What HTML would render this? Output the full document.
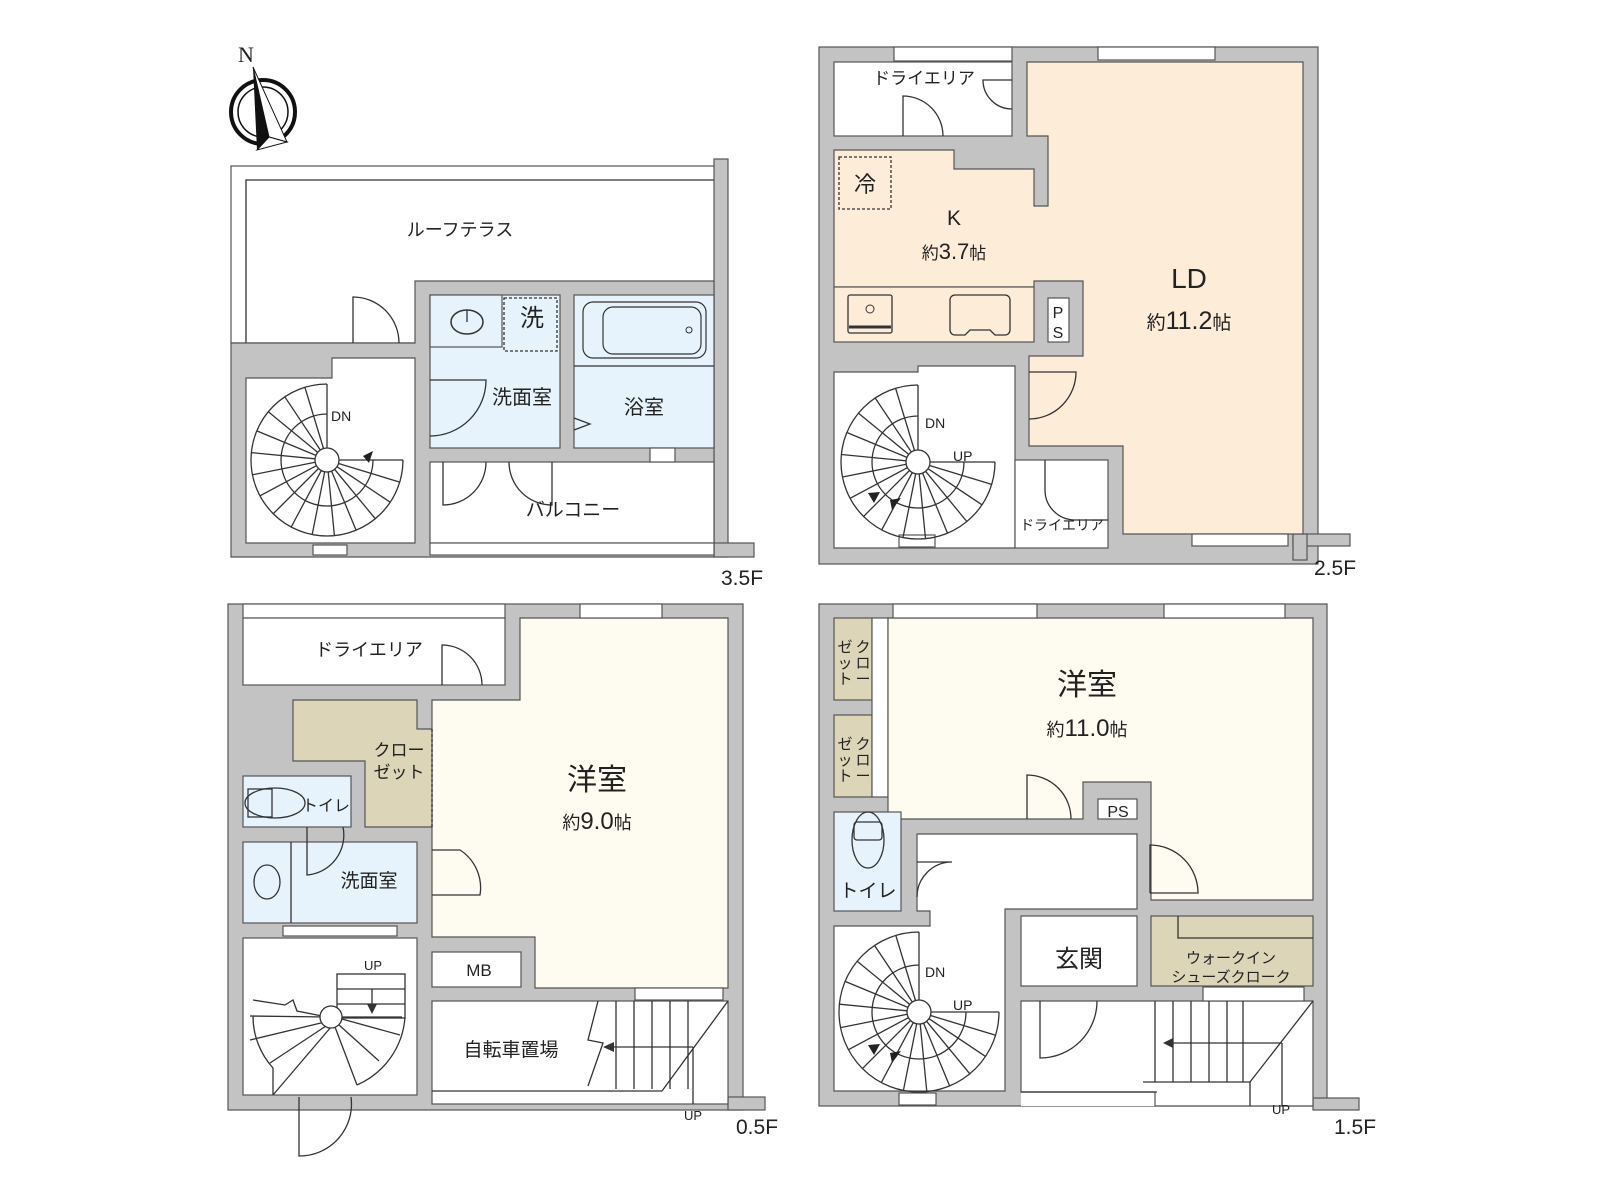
<!DOCTYPE html>
<html><head><meta charset="utf-8">
<style>
html,body{margin:0;padding:0;background:#fff;}
svg{display:block;}
text{font-family:"Liberation Sans","Noto Sans CJK JP",sans-serif;fill:#222;}
.g{fill:#c3c3c3;stroke:#555;stroke-width:1.2;}
.w{fill:#fff;stroke:#555;stroke-width:1.2;}
.b{fill:#e6f3fc;stroke:#555;stroke-width:1.2;}
.c{fill:#fcecd8;stroke:#555;stroke-width:1.2;}
.y{fill:#fefcf0;stroke:#555;stroke-width:1.2;}
.t{fill:#ddd5b8;stroke:#555;stroke-width:1.2;}
.l{fill:none;stroke:#333;stroke-width:1.3;}
.d{fill:none;stroke:#333;stroke-width:1.3;stroke-dasharray:3 2;}
</style></head><body>
<svg id="s" width="1600" height="1200" viewBox="0 0 1600 1200" xmlns="http://www.w3.org/2000/svg">
<!-- compass -->
<circle cx="263" cy="112" r="32" fill="none" stroke="#111" stroke-width="4"/>
<circle cx="263" cy="112" r="25" fill="none" stroke="#111" stroke-width="1.5"/>
<polygon points="253,67 269,137 257,150" fill="#111"/>
<polygon points="253,67 287,142 269,137" fill="#fff" stroke="#111" stroke-width="1"/>
<polygon points="257,150 269,137 287,142" fill="#fff" stroke="#111" stroke-width="1"/>
<text x="238" y="62" style="font-family:'Liberation Serif',serif;font-size:22px">N</text>

<!-- ===== 3.5F ===== -->
<rect class="w" x="231" y="166" width="484" height="177"/>
<polyline class="l" points="246,343 246,180 715,180"/>
<rect class="g" x="714" y="159" width="14" height="398"/>
<rect class="g" x="714" y="543" width="40" height="14"/>
<polygon class="g" points="231,343 415,343 415,281 714,281 714,557 231,557"/>
<polygon class="w" points="246,378 332,378 332,358 415,358 415,543 246,543"/>
<rect class="b" x="430" y="295" width="130" height="153"/>
<rect class="b" x="430" y="295" width="72" height="52"/>
<rect class="d" x="504" y="298" width="53" height="53" fill="none"/>
<rect class="b" x="574" y="295" width="140" height="153"/>
<line class="l" x1="574" y1="366" x2="714" y2="366"/>
<rect x="583" y="302" width="123" height="56" rx="10" fill="none" stroke="#333" stroke-width="1.2"/>
<rect x="603" y="307" width="98" height="47" rx="10" fill="none" stroke="#333" stroke-width="1.2"/>
<circle cx="689" cy="330" r="3" fill="none" stroke="#333"/>
<ellipse cx="467" cy="322" rx="16" ry="12" fill="none" stroke="#333" stroke-width="1.5"/>
<line class="l" x1="467" y1="310" x2="467" y2="322"/>
<rect class="w" x="430" y="462" width="284" height="81"/>
<rect class="w" x="430" y="543" width="284" height="12"/>
<path class="l" d="M353,343 L353,297 A46,46 0 0 1 399,343"/>
<path class="l" d="M430,380 L486,380 A56,56 0 0 1 430,436"/>
<path class="l" d="M443,462 L443,505 A43,43 0 0 0 486,462"/>
<path class="l" d="M552,462 L552,505 A43,43 0 0 1 509,462"/>
<polyline class="l" points="574,418 590,424 574,430"/>
<rect class="w" x="313" y="545" width="34" height="10"/>
<rect class="w" x="650" y="448" width="25" height="14"/>
<g id="sp1"></g>
<text x="460" y="236" font-size="18" text-anchor="middle">ルーフテラス</text>
<text x="532" y="326" font-size="24" text-anchor="middle">洗</text>
<text x="522" y="404" font-size="20" text-anchor="middle">洗面室</text>
<text x="644" y="414" font-size="20" text-anchor="middle">浴室</text>
<text x="573" y="516" font-size="19" text-anchor="middle">バルコニー</text>
<text x="331" y="421" font-size="14">DN</text>
<text x="721" y="585" font-size="21">3.5F</text>

<!-- ===== 2.5F ===== -->
<rect class="g" x="819" y="47" width="499" height="517"/>
<rect class="g" x="1293" y="534" width="57" height="12"/>
<rect class="g" x="1293" y="534" width="14" height="26"/>
<rect class="w" x="894" y="47" width="118" height="14"/>
<rect class="w" x="834" y="62" width="178" height="74"/>
<polygon class="c" points="1027,62 1303,62 1303,534 1123,534 1123,446 1029,446 1029,356 1083,356 1083,281 1034,281 1034,287 834,287 834,150 954,150 954,169 1034,169 1034,206 1048,206 1048,136 1027,136"/>
<rect class="c" x="834" y="287" width="200" height="55"/>
<rect class="w" x="1048" y="298" width="21" height="44"/>
<rect class="d" x="839" y="157" width="52" height="52"/>
<rect x="848" y="295" width="44" height="38" rx="2" fill="none" stroke="#333" stroke-width="1.3"/>
<circle cx="870" cy="309" r="4" fill="none" stroke="#333"/>
<line x1="849" y1="327" x2="891" y2="327" stroke="#333" stroke-width="3"/>
<path d="M955,295 h50 a5,5 0 0 1 5,5 v30 a5,5 0 0 1 -5,5 h-10 l-5,-5 h-20 l-5,5 h-10 a5,5 0 0 1 -5,-5 v-30 a5,5 0 0 1 5,-5z" fill="none" stroke="#333" stroke-width="1.3"/>
<polygon class="w" points="834,372 918,372 918,366 1015,366 1015,548 834,548"/>
<rect class="w" x="1015" y="460" width="93" height="88"/>
<rect class="w" x="1098" y="47" width="117" height="13"/>
<rect class="w" x="1192" y="534" width="96" height="12"/>
<rect class="w" x="899" y="535" width="36" height="12"/>
<path class="l" d="M903,136 L903,96 A40,40 0 0 1 943,136"/>
<path class="l" d="M1012,80 L983,80 A29,29 0 0 0 1012,109" />
<path class="l" d="M1029,372 L1076,372 A47,47 0 0 1 1029,419"/>
<path class="l" d="M1045,460 L1045,490 A30,30 0 0 0 1075,520 L1108,520"/>
<g id="sp2"></g>
<text x="924" y="84" font-size="17" text-anchor="middle">ドライエリア</text>
<text x="865" y="192" font-size="22" text-anchor="middle">冷</text>
<text x="954" y="225" font-size="21" text-anchor="middle">K</text>
<text x="954" y="259" font-size="17" text-anchor="middle">約<tspan font-size="22">3.7</tspan>帖</text>
<text x="1058" y="318" font-size="16" text-anchor="middle">P</text>
<text x="1058" y="338" font-size="16" text-anchor="middle">S</text>
<text x="1189" y="288" font-size="28" text-anchor="middle">LD</text>
<text x="1189" y="329" font-size="19" text-anchor="middle">約<tspan font-size="25">11.2</tspan>帖</text>
<text x="925" y="428" font-size="14">DN</text>
<text x="953" y="461" font-size="14">UP</text>
<text x="1062" y="530" font-size="14" text-anchor="middle">ドライエリア</text>
<text x="1314" y="575" font-size="21">2.5F</text>

<!-- ===== 0.5F ===== -->
<rect class="g" x="228" y="604" width="515" height="506"/>
<rect class="g" x="728" y="1097" width="37" height="13"/>
<rect class="w" x="243" y="604" width="262" height="14"/>
<rect class="w" x="243" y="618" width="262" height="67"/>
<polygon class="y" points="520,618 728,618 728,988 535,988 535,937 432,937 432,700 520,700"/>
<polygon class="t" points="293,700 417,700 417,729 432,729 432,827 365,827 365,761 293,761"/>
<line class="d" x1="432" y1="729" x2="432" y2="827"/>
<rect class="b" x="243" y="776" width="108" height="51"/>
<ellipse cx="275" cy="803" rx="30" ry="15" fill="none" stroke="#333" stroke-width="1.3"/>
<rect x="248" y="789" width="24" height="28" fill="none" stroke="#333" stroke-width="1.3"/>
<rect class="b" x="243" y="842" width="174" height="81"/>
<line class="l" x1="291" y1="842" x2="291" y2="923"/>
<ellipse cx="267" cy="882" rx="13" ry="17" fill="none" stroke="#333" stroke-width="1.3"/>
<rect class="w" x="243" y="938" width="174" height="157"/>
<rect class="w" x="432" y="952" width="89" height="35"/>
<rect class="w" x="432" y="1001" width="296" height="103"/>
<line class="l" x1="432" y1="1091" x2="662" y2="1091"/>
<rect class="w" x="580" y="604" width="82" height="14"/>
<rect class="w" x="635" y="988" width="88" height="12"/>
<rect class="w" x="283" y="926" width="114" height="10"/>
<path class="l" d="M442,685 L442,645 A40,40 0 0 1 482,685"/>
<path class="l" d="M432,850 L460,850 A45,45 0 0 1 480,895 L432,895"/>
<path class="l" d="M307,827 L307,875 A40,40 0 0 0 343,827"/>
<path class="l" d="M299,1097 L299,1156 A52,52 0 0 0 351,1097"/>
<g class="l">
<line x1="616" y1="1001" x2="616" y2="1089"/><line x1="634" y1="1001" x2="634" y2="1089"/><line x1="652" y1="1001" x2="652" y2="1089"/><line x1="670" y1="1001" x2="670" y2="1089"/><line x1="688" y1="1001" x2="688" y2="1089"/>
<line x1="728" y1="1001" x2="662" y2="1091"/>
<polyline points="598,1001 588,1040 603,1043 588,1086"/>
<line x1="610" y1="1047" x2="693" y2="1047"/>
<line x1="693" y1="1047" x2="693" y2="1104"/>
</g>
<polygon points="603,1047 614,1042 614,1052" fill="#333"/>
<g class="l">
<rect x="337" y="974" width="68" height="44" fill="none"/>
<line x1="337" y1="989" x2="405" y2="989"/><line x1="337" y1="1004" x2="405" y2="1004"/>
<line x1="372" y1="989" x2="372" y2="1012"/>
<path d="M253,1000 L285,1005 L293,1000 L297,1011 L327,1017"/>
<path d="M250,1016 L327,1017 M250,1040 L325,1022 M270,1063 L326,1026 M273,1095 L331,1027 M357,1085 L335,1027 M379,1061 L339,1025 M400,1035 L342,1019 M402,1017 L342,1017"/>
<path d="M253,1016 A77,77 0 0 0 273,1068 L273,1095 M357,1085 A80,80 0 0 0 405,1017"/>
</g>
<circle cx="331" cy="1017" r="11" fill="#fff" stroke="#333" stroke-width="1.3"/>
<polygon points="372,1014 367,1004 377,1004" fill="#333"/>
<text x="369" y="656" font-size="18" text-anchor="middle">ドライエリア</text>
<text x="399" y="756" font-size="17" text-anchor="middle">クロー</text>
<text x="399" y="778" font-size="17" text-anchor="middle">ゼット</text>
<text x="326" y="811" font-size="16" text-anchor="middle">トイレ</text>
<text x="369" y="887" font-size="19" text-anchor="middle">洗面室</text>
<text x="597" y="790" font-size="30" text-anchor="middle">洋室</text>
<text x="597" y="829" font-size="18" text-anchor="middle">約<tspan font-size="24">9.0</tspan>帖</text>
<text x="479" y="976" font-size="17" text-anchor="middle">MB</text>
<text x="511" y="1056" font-size="19" text-anchor="middle">自転車置場</text>
<text x="373" y="970" font-size="13" text-anchor="middle">UP</text>
<text x="693" y="1120" font-size="13" text-anchor="middle">UP</text>
<text x="736" y="1134" font-size="21">0.5F</text>

<!-- ===== 1.5F ===== -->
<rect class="g" x="819" y="604" width="508" height="502"/>
<rect class="g" x="1313" y="1098" width="46" height="12"/>
<rect class="w" x="1021" y="1001" width="292" height="105" style="stroke:none"/>
<rect class="t" x="834" y="618" width="38" height="82"/>
<rect class="t" x="834" y="715" width="38" height="82"/>
<rect class="w" x="872" y="618" width="16" height="179"/>
<polygon class="y" points="888,618 1313,618 1313,900 1151,900 1151,782 1083,782 1083,819 888,819"/>
<rect class="w" x="1098" y="799" width="39" height="20"/>
<rect class="b" x="834" y="812" width="67" height="99"/>
<ellipse cx="868" cy="840" rx="16" ry="28" fill="none" stroke="#333" stroke-width="1.3"/>
<rect x="854" y="822" width="28" height="18" rx="3" fill="none" stroke="#333" stroke-width="1.3"/>
<polygon class="w" points="917,834 1137,834 1137,909 1005,909 1005,1091 834,1091 834,926 930,926 930,911 917,911"/>
<rect class="w" x="1021" y="916" width="116" height="70"/>
<rect class="t" x="1151" y="916" width="162" height="70"/>
<polyline class="l" points="1178,916 1178,938 1313,938"/>
<polygon class="w" points="1021,1001 1313,1001 1313,1106 1155,1106 1155,1092 1021,1092"/>
<line class="l" x1="1021" y1="1092" x2="1157" y2="1092"/>
<rect class="w" x="893" y="604" width="144" height="14"/>
<rect class="w" x="1164" y="604" width="121" height="14"/>
<rect class="w" x="1203" y="987" width="101" height="14"/>
<rect class="w" x="899" y="1093" width="37" height="12"/>
<path class="l" d="M1027,819 L1027,775 A44,44 0 0 1 1071,819"/>
<path class="l" d="M1150,893 L1150,845 A48,48 0 0 1 1198,893 L1150,893"/>
<path class="l" d="M917,862 L952,862 A35,35 0 0 0 917,897"/>
<path class="l" d="M1040,1001 L1040,1058 A57,57 0 0 0 1097,1001"/>
<g class="l">
<line x1="1155" y1="1001" x2="1155" y2="1082"/><line x1="1173" y1="1001" x2="1173" y2="1082"/><line x1="1191" y1="1001" x2="1191" y2="1082"/><line x1="1209" y1="1001" x2="1209" y2="1082"/><line x1="1227" y1="1001" x2="1227" y2="1082"/><line x1="1243" y1="1001" x2="1243" y2="1082"/>
<line x1="1313" y1="1001" x2="1250" y2="1082"/>
<polyline points="1143,1082 1250,1082 1250,1106"/>
<line x1="1168" y1="1043" x2="1282" y2="1043"/>
<line x1="1282" y1="1043" x2="1282" y2="1106"/>
</g>
<polygon points="1163,1043 1173,1038 1173,1048" fill="#333"/>
<g id="sp3"></g>
<g font-size="15" text-anchor="middle">
<text x="863" y="652">ク</text><text x="863" y="668">ロ</text><text x="863" y="684">ー</text>
<text x="845" y="652">ゼ</text><text x="845" y="668">ッ</text><text x="845" y="684">ト</text>
<text x="863" y="749">ク</text><text x="863" y="765">ロ</text><text x="863" y="781">ー</text>
<text x="845" y="749">ゼ</text><text x="845" y="765">ッ</text><text x="845" y="781">ト</text>
</g>
<text x="1087" y="695" font-size="30" text-anchor="middle">洋室</text>
<text x="1087" y="736" font-size="18" text-anchor="middle">約<tspan font-size="24">11.0</tspan>帖</text>
<text x="1118" y="817" font-size="16" text-anchor="middle">PS</text>
<text x="868" y="897" font-size="19" text-anchor="middle">トイレ</text>
<text x="1079" y="967" font-size="24" text-anchor="middle">玄関</text>
<text x="1231" y="963" font-size="15" text-anchor="middle">ウォークイン</text>
<text x="1231" y="982" font-size="15" text-anchor="middle">シューズクローク</text>
<text x="925" y="977" font-size="14">DN</text>
<text x="953" y="1010" font-size="14">UP</text>
<text x="1281" y="1114" font-size="13" text-anchor="middle">UP</text>
<text x="1334" y="1134" font-size="21">1.5F</text>
</svg>
<script>
(function(){
var NS="http://www.w3.org/2000/svg";
function sp(id,cx,cy,R,r,a0,a1,n,arrows){
 var g=document.getElementById(id),s='';
 var f=function(a,rr){return [(cx+rr*Math.cos(a*Math.PI/180)).toFixed(1),(cy+rr*Math.sin(a*Math.PI/180)).toFixed(1)];};
 for(var i=0;i<=n;i++){var a=a0+(a1-a0)*i/n,p=f(a,12),q=f(a,R);s+='M'+p+'L'+q;}
 var A=f(a0,R),B=f(a1,R),C=f(a0,r),D=f(a1,r);
 var large=((a1-a0)>180)?1:0;
 s+='M'+A+'A'+R+','+R+' 0 '+large+' 1 '+B;
 s+='M'+C+'A'+r+','+r+' 0 '+large+' 1 '+D;
 var p=document.createElementNS(NS,'path');p.setAttribute('d',s);p.setAttribute('fill','none');p.setAttribute('stroke','#333');p.setAttribute('stroke-width','1.3');g.appendChild(p);
 var c=document.createElementNS(NS,'circle');c.setAttribute('cx',cx);c.setAttribute('cy',cy);c.setAttribute('r',12);c.setAttribute('fill','#fff');c.setAttribute('stroke','#333');c.setAttribute('stroke-width','1.3');g.appendChild(c);
 arrows.forEach(function(w){var t=document.createElementNS(NS,'polygon');t.setAttribute('points',w);t.setAttribute('fill','#222');g.appendChild(t);});
}
sp('sp1',327,460,76,46,0,270,16,['363,456 373,451 369,463']);
sp('sp2',918,462,77,46,0,270,16,['868,493 880,492 874,503','890,500 901,498 892,510']);
sp('sp3',919,1012,80,47,0,270,16,['868,1045 880,1044 874,1055','890,1053 901,1051 892,1063']);
})();
</script>
</body></html>
